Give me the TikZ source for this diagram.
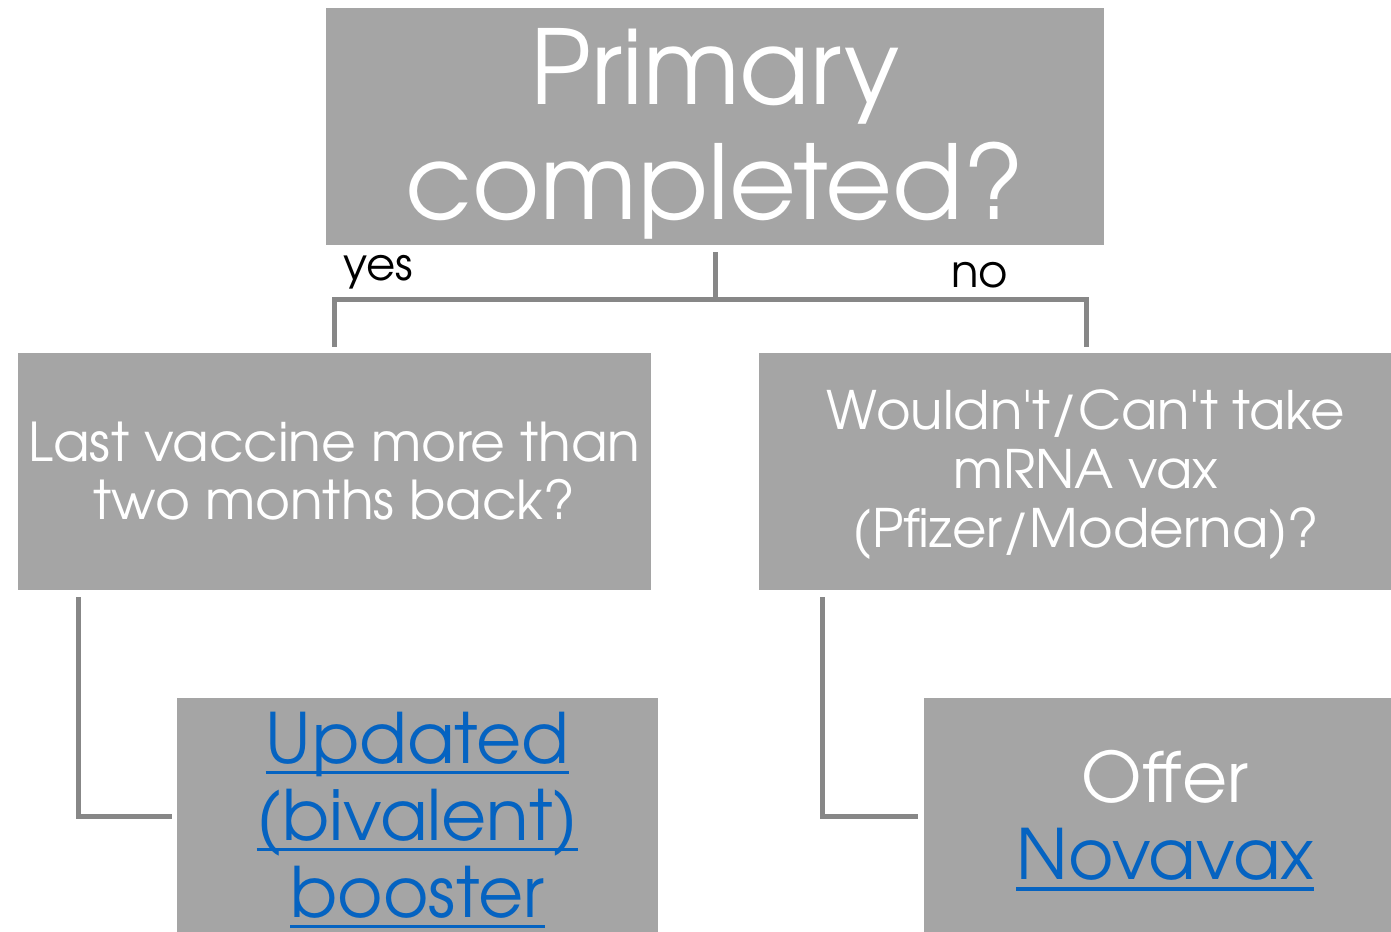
\documentclass[tikz,border=0pt]{standalone}
\usepackage{fontspec}
\newfontfamily\gfont{texgyreadventor}[Extension=.otf,UprightFont=*-regular]
\definecolor{boxgray}{HTML}{A5A5A5}
\definecolor{linegray}{HTML}{878787}
\definecolor{linkblue}{HTML}{0563C1}
\newlength\myulw
\newcommand\linkul[1]{\settowidth{\myulw}{#1}\makebox[0pt][l]{\rule[-0.155em]{\myulw}{0.05em}}#1}
\tikzset{
  box/.style={fill=boxgray, draw=none, inner sep=0pt, minimum height=237pt},
  boxtext/.style={text=white, align=center, inner sep=0pt},
  conn/.style={draw=linegray, line width=5pt},
  lbl/.style={text=black, inner sep=0pt, font=\gfont\fontsize{45}{50}\selectfont},
}
\begin{document}
\begin{tikzpicture}[x=1pt,y=-1pt]
\useasboundingbox (0,0) rectangle (1391,931);
\clip (0,0) rectangle (1391,931);
% boxes
\node[box, minimum width=778pt] (top) at (715,126.5) {};
\node[box, minimum width=633pt] (left) at (334.5,471.5) {};
\node[box, minimum width=654pt] (right) at (1086,471.5) {};
\node[box, minimum width=481pt] (bl) at (417.5,816.5) {};
\node[box, minimum width=482pt] (br) at (1165,816.5) {};
% texts
\node[boxtext, font=\gfont\fontsize{103}{115}\selectfont] (topt) at ([yshift=-7pt]top.center) {Primary\\completed?};
\node[boxtext, font=\gfont\fontsize{53.5}{58}\selectfont] (leftt) at (left.center) {Last vaccine more than\\two months back?};
\node[boxtext, font=\gfont\fontsize{53}{59}\selectfont] (rightt) at ([yshift=-3pt]right.center) {Wouldn't/Can't take\\mRNA vax\\(Pfizer/Moderna)?};
\node[boxtext, text=linkblue, font=\gfont\fontsize{69.5}{77}\selectfont] (blt) at ([yshift=-3.5pt]bl.center) {\linkul{Updated}\\\linkul{(bivalent)}\\\linkul{booster}};
\node[boxtext, font=\gfont\fontsize{69.5}{77}\selectfont] (brt) at ([yshift=-4pt]br.center) {Offer\\\textcolor{linkblue}{\linkul{Novavax}}};
% labels
\node[lbl, anchor=base west] (yes) at (343,280) {yes};
\node[lbl, anchor=base west] (no) at (951,287) {no};
% connectors
\coordinate (jy) at (0,299);
\draw[conn] ([yshift=-7pt]top.south) -- (top.south |- jy);
\draw[conn] ([yshift=6pt]left.north) |- (top.south |- jy) -| ([yshift=6pt]right.north);
\draw[conn] ([xshift=61pt,yshift=-7pt]left.south west) |- ([xshift=-5pt]bl.west);
\draw[conn] ([xshift=64pt,yshift=-7pt]right.south west) |- ([xshift=-6pt]br.west);
\end{tikzpicture}
\end{document}
